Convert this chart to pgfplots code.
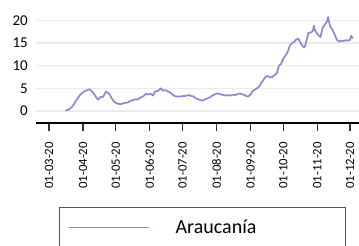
\documentclass[border=0pt]{standalone}
\usepackage{pgfplots}
\pgfplotsset{compat=1.18}
\usepackage{fontspec}
\setmainfont{Carlito}
\definecolor{serie}{RGB}{140,136,210}
\definecolor{gridc}{RGB}{230,236,240}
\definecolor{legbord}{RGB}{85,85,85}
\begin{document}
\begin{tikzpicture}
\useasboundingbox (0,0) rectangle (359bp,-246bp);
\begin{axis}[
  at={(36bp,-123bp)}, anchor=south west,
  scale only axis, width=323bp, height=115bp,
  xmin=-11.9, xmax=283.2, ymin=-2.65, ymax=22.7,
  axis x line*=bottom, axis y line*=left,
  x axis line style={black, line width=1.3bp, -},
  y axis line style={draw=none},
  xtick={0,31,61,92,122,153,184,214,245,275},
  xticklabels={01-03-20,01-04-20,01-05-20,01-06-20,01-07-20,01-08-20,01-09-20,01-10-20,01-11-20,01-12-20},
  ytick={0,5,10,15,20},
  tick align=outside,
  x tick style={black!80, line width=1.2bp},
  major tick length=8bp,
  y tick style={draw=none},
  ymajorgrids, grid style={gridc, line width=1.3bp},
  /pgf/number format/assume math mode=true,
  xticklabel style={yshift=-11bp, rotate=90, anchor=east, inner sep=0pt, font=\fontsize{12.7bp}{13bp}\selectfont},
  yticklabel style={anchor=east, inner sep=0pt, font=\fontsize{15bp}{16bp}\selectfont},
  legend style={at={(0.0712,-0.7304)}, anchor=north west, draw=legbord, line width=1.3bp,
    inner sep=0pt, row sep=0pt, column sep=0pt, font=\fontsize{20bp}{22bp}\selectfont},
  legend image code/.code={\path[draw=none] (-9bp,-20bp) rectangle (105bp,20bp); \draw[#1, line width=1.6bp] (0bp,0bp) -- (80bp,0bp);},
  legend cell align=left,
]
\addplot[serie, line width=1.7bp, line join=round] coordinates {
(15,0.1)(17,0.2)(19,0.5)(21,0.9)(23,1.6)(25,2.4)(27,3.1)(29,3.7)(31,4.1)(33,4.4)
(35,4.6)(37,4.8)(38,4.6)(40,4.1)(42,3.4)(44,2.7)(45,2.5)(47,3.1)(49,3.0)(51,3.8)
(52,4.3)(53,4.1)(55,3.8)(57,2.9)(59,2.2)(61,1.8)(63,1.6)(65,1.5)(67,1.6)(69,1.8)
(71,1.8)(73,2.0)(75,2.3)(77,2.4)(79,2.6)(81,2.5)(83,2.9)(85,3.1)(87,3.4)(89,3.8)
(91,3.6)(93,3.8)(95,3.4)(97,4.3)(99,4.4)(101,4.7)(102,5.0)(104,4.5)(106,4.6)(108,4.4)
(110,4.2)(112,3.8)(114,3.4)(116,3.2)(118,3.2)(120,3.2)(122,3.3)(124,3.3)(126,3.4)(128,3.5)
(130,3.3)(132,3.2)(134,2.8)(136,2.6)(138,2.4)(140,2.3)(142,2.5)(144,2.7)(146,2.9)(148,3.2)
(150,3.5)(152,3.7)(154,3.9)(156,3.7)(158,3.6)(160,3.5)(162,3.4)(164,3.5)(166,3.4)(168,3.6)
(170,3.5)(172,3.7)(174,3.9)(176,3.7)(178,3.6)(180,3.3)(182,3.2)(184,3.6)(186,4.4)(188,4.7)
(190,5.0)(192,5.4)(194,6.2)(196,6.9)(198,7.6)(200,7.7)(202,7.4)(204,7.5)(206,7.9)(208,8.3)
(210,9.9)(212,10.4)(214,11.5)(216,12.2)(218,13.0)(220,14.4)(222,15.0)(224,15.2)(226,15.8)(228,15.9)
(229,15.4)(231,14.5)(233,14.0)(234,14.4)(235,15.3)(237,17.2)(239,17.3)(241,17.6)(242,18.8)(243,17.8)
(245,17.0)(247,16.5)(248,16.3)(250,18.4)(252,19.0)(254,19.8)(255,20.7)(256,19.5)(257,18.6)(259,17.9)
(261,16.8)(263,15.7)(265,15.3)(267,15.5)(269,15.4)(271,15.6)(273,15.5)(275,15.7)(276,16.6)(277.5,16.0)
};
\addlegendentry{\makebox[168bp][l]{Araucanía}}
\end{axis}
\end{tikzpicture}
\end{document}
